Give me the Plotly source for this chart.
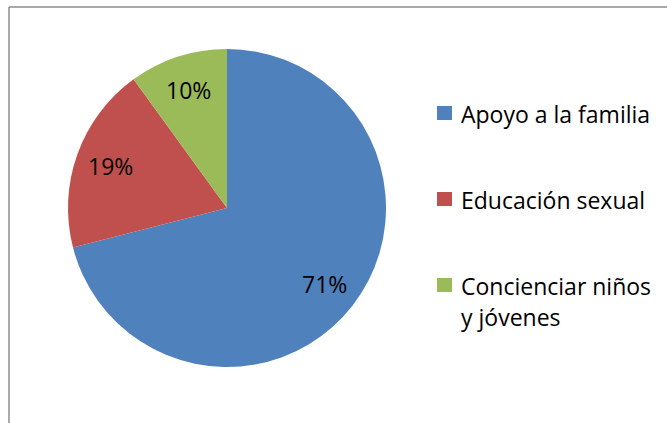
import math
import plotly.graph_objects as go

labels = ["Apoyo a la familia", "Educación sexual", "Concienciar niños y jóvenes"]
legend_lines = [["Apoyo a la familia"], ["Educación sexual"], ["Concienciar niños", "y jóvenes"]]
values = [71, 19, 10]
colors = ["#4F81BD", "#C0504D", "#9BBB59"]

W, H = 667, 423
FONT = "Open Sans"
CX, CY, R = 227, 208, 159  # pie centre / radius in pixels

fig = go.Figure(go.Pie(
    labels=labels,
    values=values,
    sort=False,
    direction="clockwise",
    rotation=0,
    marker=dict(colors=colors, line=dict(width=0)),
    textinfo="none",
    showlegend=False,
    hoverinfo="label+percent",
    domain=dict(x=[(CX - R) / W, (CX + R) / W], y=[1 - (CY + R) / H, 1 - (CY - R) / H]),
))

shapes = [
    dict(type="line", xref="paper", yref="paper", x0=9 / W, x1=1, y0=1 - 7 / H, y1=1 - 7 / H,
         line=dict(color="#8c8c8c", width=1.5)),
    dict(type="line", xref="paper", yref="paper", x0=9 / W, x1=9 / W, y0=0, y1=1 - 7 / H,
         line=dict(color="#8c8c8c", width=1.5)),
]
annotations = []

# percentage labels placed along each slice's mid-angle (clockwise from 12 o'clock)
total = sum(values)
start = 0.0
for v in values:
    mid = (start + v / 2) / total * 2 * math.pi
    start += v
    px = CX + 0.78 * R * math.sin(mid)
    py = CY - 0.78 * R * math.cos(mid)
    annotations.append(dict(xref="paper", yref="paper", x=px / W, y=1 - py / H,
                            text=f"{round(v / total * 100)}%", showarrow=False,
                            xanchor="center", yanchor="middle",
                            font=dict(family=FONT, size=23, color="#000000")))

legend_y = [113, 199, 285]
for lines, col, yc in zip(legend_lines, colors, legend_y):
    shapes.append(dict(type="rect", xref="paper", yref="paper",
                       x0=437 / W, x1=452 / W, y0=1 - (yc + 7) / H, y1=1 - (yc - 7) / H,
                       fillcolor=col, line=dict(width=0)))
    for i, line in enumerate(lines):
        annotations.append(dict(xref="paper", yref="paper", x=459 / W, y=1 - (yc + 1 + 31 * i) / H,
                                text=line, showarrow=False, xanchor="left", yanchor="middle",
                                align="left",
                                font=dict(family=FONT, size=23, color="#000000")))

fig.update_layout(
    width=W, height=H,
    margin=dict(l=0, r=0, t=0, b=0),
    paper_bgcolor="white",
    plot_bgcolor="white",
    shapes=shapes,
    annotations=annotations,
)

fig.write_html("out.html", config={"displayModeBar": False},
               post_script="document.body.style.margin='0';")
